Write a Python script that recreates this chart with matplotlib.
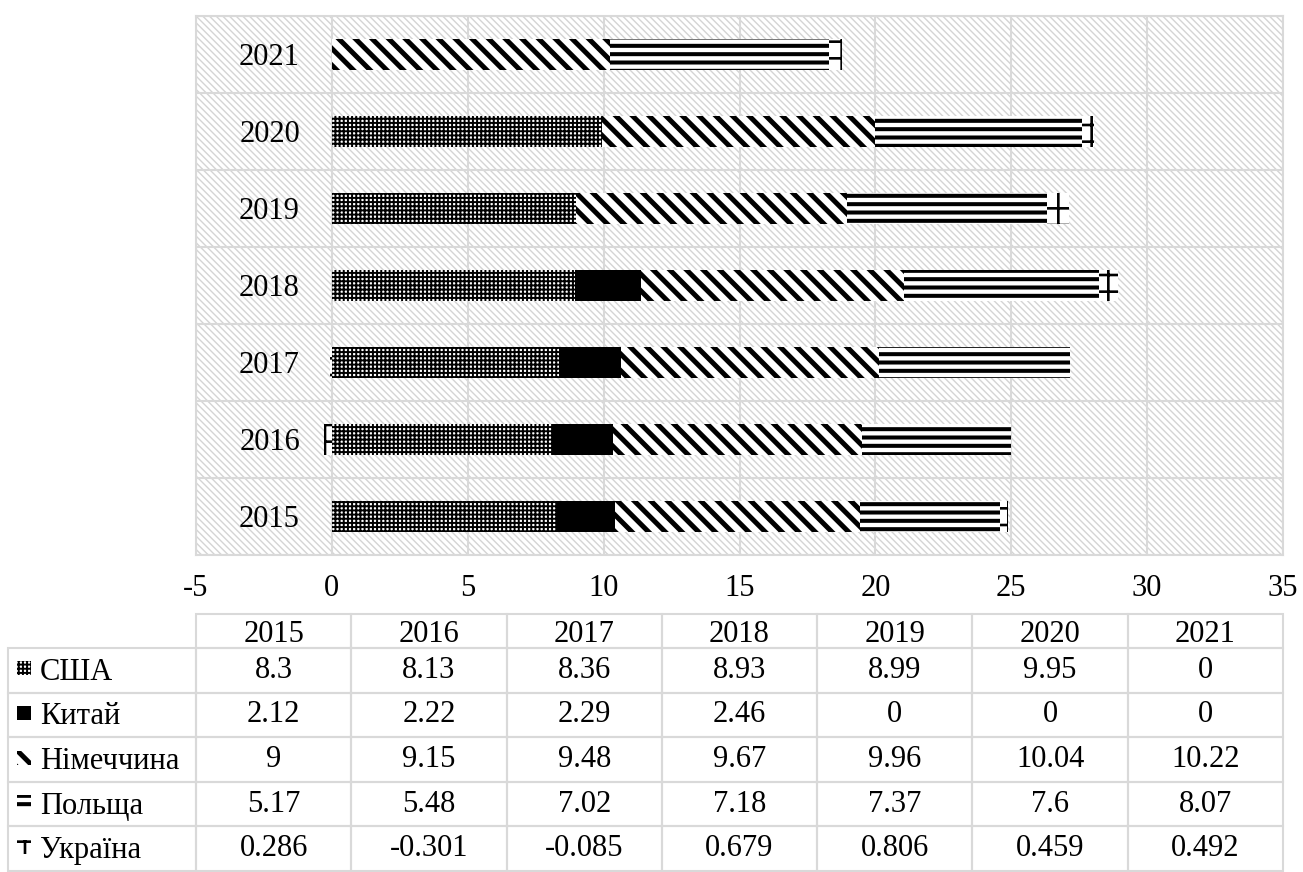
import matplotlib.pyplot as plt
from matplotlib.patches import Rectangle
from matplotlib.table import Table
import numpy as np

plt.rcParams["font.family"] = ["Liberation Serif", "DejaVu Serif"]
plt.rcParams["axes.unicode_minus"] = False

# Data
years = ["2015", "2016", "2017", "2018", "2019", "2020", "2021"]
series = ["США", "Китай", "Німеччина", "Польща", "Україна"]
usa = [8.3, 8.13, 8.36, 8.93, 8.99, 9.95, 0]
china = [2.12, 2.22, 2.29, 2.46, 0, 0, 0]
germany = [9, 9.15, 9.48, 9.67, 9.96, 10.04, 10.22]
poland = [5.17, 5.48, 7.02, 7.18, 7.37, 7.6, 8.07]
ukraine = [0.286, -0.301, -0.085, 0.679, 0.806, 0.459, 0.492]
values = [usa, china, germany, poland, ukraine]

# fill styles: face, hatch, hatch linewidth
styles = [
    ("white", "++++", 1.4),
    ("black", None, 1.0),
    ("white", "\\\\", 3.6),
    ("white", "--", 2.9),
    ("white", "+", 1.9),
]

FS = 22
W, H = 1303, 872
GRID = "#d9d9d9"

fig = plt.figure(figsize=(W / 100, H / 100), dpi=100)
# plot area in pixels: x 196..1283, y 16..555
ax = fig.add_axes([196 / W, (H - 555) / H, 1087 / W, 539 / H])
ax.set_facecolor("none")

# hatched background of the plot area
with plt.rc_context({"hatch.linewidth": 1.0}):
    bg = Rectangle((0, 0), 1, 1, transform=ax.transAxes, facecolor="white",
                   edgecolor="#d4d4d4", linewidth=0, hatch="\\" * 5, zorder=0)
    if hasattr(bg, "set_hatch_linewidth"):
        bg.set_hatch_linewidth(1.0)
ax.add_patch(bg)

y = np.arange(len(years))
pos_left = np.zeros(len(years))
neg_left = np.zeros(len(years))
for vals, (face, hatch, hlw) in zip(values, styles):
    vals = np.array(vals, dtype=float)
    left = np.where(vals >= 0, pos_left, neg_left)
    with plt.rc_context({"hatch.linewidth": hlw}):
        bars = ax.barh(y, vals, left=left, height=0.39, color=face,
                       edgecolor="black", linewidth=0, hatch=hatch, zorder=2)
        for b in bars:
            if hasattr(b, "set_hatch_linewidth"):
                b.set_hatch_linewidth(hlw)
    pos_left += np.where(vals > 0, vals, 0)
    neg_left += np.where(vals < 0, vals, 0)

ax.set_xlim(-5, 35)
ax.set_ylim(-0.5, len(years) - 0.5)
ax.set_xticks(np.arange(-5, 36, 5))
ax.set_yticks([])
ax.set_yticks(np.arange(-0.5, len(years), 1), minor=True)
ax.tick_params(axis="x", length=0, pad=14, labelsize=FS)
ax.tick_params(axis="y", which="both", length=0)
ax.set_axisbelow(True)
ax.grid(axis="x", which="major", color=GRID, linewidth=1.5, zorder=1)
ax.grid(axis="y", which="minor", color=GRID, linewidth=1.5, zorder=1)
for s in ax.spines.values():
    s.set_color(GRID)
    s.set_linewidth(1.5)

# category labels sit next to the zero line
for yi, yr in zip(y, years):
    ax.annotate(yr, xy=(0, yi), xytext=(-23, -2), textcoords="offset points",
                ha="right", va="center", fontsize=FS)

# data table under the chart
left_px, right_px, top_px, bot_px = 8, 1283, 614, 871
tb = Table(ax, bbox=[(left_px - 196) / 1087, (555 - bot_px) / 539,
                     (right_px - left_px) / 1087, (bot_px - top_px) / 539])
lab_w, col_w = 188, 155.3
head_h, row_h = 34, 44.6
for j, yr in enumerate(years):
    cell = tb.add_cell(0, j + 1, col_w, head_h, text=yr, loc="center",
                       edgecolor=GRID, facecolor="none")
    cell.get_text().set_va("center_baseline")
for i, vals in enumerate(values):
    tb.add_cell(i + 1, 0, lab_w, row_h, text="", edgecolor=GRID, facecolor="none")
    for j, v in enumerate(vals):
        tb.add_cell(i + 1, j + 1, col_w, row_h, text=f"{v:g}", loc="center",
                    edgecolor=GRID, facecolor="none")
for c in tb.get_celld().values():
    c.set_linewidth(1.5)
tb.auto_set_font_size(False)
tb.set_fontsize(FS)
ax.add_table(tb)
tb.set_clip_on(False)

# legend keys and series names in the first column
for i, (name, (face, hatch, hlw)) in enumerate(zip(series, styles)):
    yc = top_px + head_h + row_h * (i + 0.5)
    with plt.rc_context({"hatch.linewidth": hlw}):
        key = Rectangle((17 / W, 1 - (yc + 5) / H), 14 / W, 14 / H,
                        transform=fig.transFigure, facecolor=face,
                        edgecolor="black", linewidth=0, hatch=hatch)
        if hasattr(key, "set_hatch_linewidth"):
            key.set_hatch_linewidth(hlw)
    fig.add_artist(key)
    fig.text(40 / W, 1 - (yc + 2) / H, name, ha="left", va="center", fontsize=FS)

fig.savefig("out.png", dpi=100)
